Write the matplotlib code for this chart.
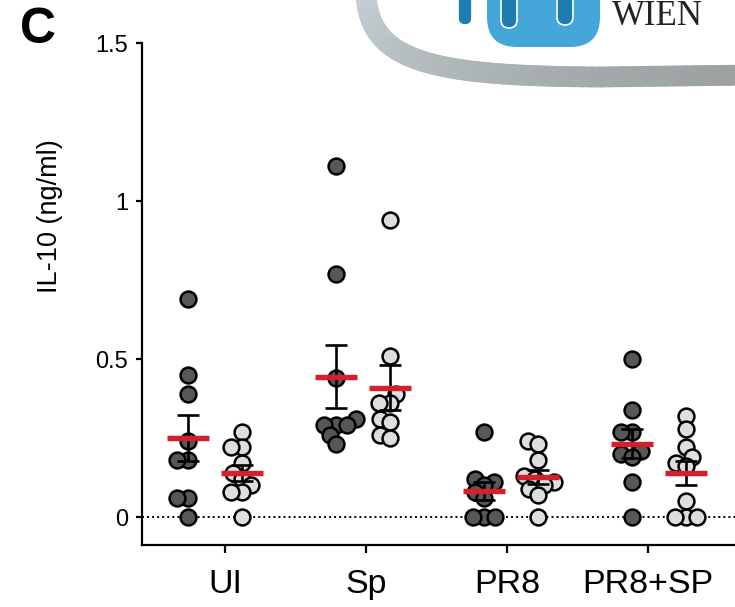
#!/usr/bin/env python3
"""IL-10 dot plot: two cohorts per stimulation, mean (red) and SEM."""

import matplotlib
matplotlib.use("Agg")
import matplotlib.pyplot as plt
import numpy as np
from matplotlib.collections import LineCollection
from matplotlib.patches import FancyBboxPatch

plt.rcParams["font.family"] = ["Liberation Sans", "DejaVu Sans"]

W, H = 735, 607

CATEGORIES = ["UI", "Sp", "PR8", "PR8+SP"]

# IL-10 (ng/ml), dark = first cohort, light = second cohort
UI_DARK = [0.69, 0.45, 0.39, 0.24, 0.18, 0.18, 0.06, 0.06, 0.0]
UI_LIGHT = [0.27, 0.22, 0.22, 0.17, 0.14, 0.12, 0.10, 0.08, 0.08, 0.0]
SP_DARK = [1.11, 0.77, 0.44, 0.31, 0.29, 0.29, 0.29, 0.26, 0.23]
SP_LIGHT = [0.94, 0.51, 0.39, 0.36, 0.36, 0.31, 0.30, 0.26, 0.25]
PR8_DARK = [0.27, 0.12, 0.11, 0.10, 0.08, 0.06, 0.0, 0.0, 0.0]
PR8_LIGHT = [0.24, 0.23, 0.18, 0.13, 0.12, 0.11, 0.10, 0.09, 0.07, 0.0]
PR8SP_DARK = [0.50, 0.34, 0.27, 0.27, 0.21, 0.20, 0.19, 0.11, 0.0]
PR8SP_LIGHT = [0.32, 0.28, 0.22, 0.19, 0.17, 0.16, 0.05, 0.0, 0.0, 0.0]

DARK = [UI_DARK, SP_DARK, PR8_DARK, PR8SP_DARK]
LIGHT = [UI_LIGHT, SP_LIGHT, PR8_LIGHT, PR8SP_LIGHT]

DARK_FILL = "#575757"
LIGHT_FILL = "#dedede"
MEAN_RED = "#d61f2b"

PX_PER_Y = 316.0   # pixels per ng/ml
PX_PER_X = 148.0   # pixels per category step
HALF_GAP = 0.185   # offset of each cohort from the group centre


def swarm(values, d=11.0):
    """Beeswarm offsets; markers closer than d pixels get pushed sideways."""
    ys = np.asarray(values, dtype=float) * PX_PER_Y
    xs = np.zeros(len(ys))
    placed = []
    for i in np.argsort(ys, kind="stable"):
        y = ys[i]
        cands = [0.0]
        for px, py in placed:
            dy = abs(y - py)
            if dy < d:
                dx = np.sqrt(d * d - dy * dy)
                cands += [px + dx, px - dx]
        cands.sort(key=lambda c: (abs(c), c))
        for c in cands:
            if all((c - px) ** 2 + (y - py) ** 2 >= d * d - 1e-6 for px, py in placed):
                xs[i] = c
                break
        placed.append((xs[i], y))
    return xs / PX_PER_X


def draw_group(ax, x0, vals, fill):
    vals = np.asarray(vals, dtype=float)
    ax.plot(x0 + swarm(vals), vals, "o", ms=11.4, mfc=fill, mec="black",
            mew=1.8, zorder=3, clip_on=False)
    mean = vals.mean()
    sem = vals.std(ddof=1) / np.sqrt(len(vals))
    ax.errorbar([x0], [mean], yerr=[sem], fmt="none", ecolor="black",
                elinewidth=1.9, capsize=8, capthick=1.9, zorder=4)
    ax.hlines(mean, x0 - 0.142, x0 + 0.142, color=MEAN_RED, lw=3.9, zorder=5)


fig = plt.figure(figsize=(W / 100, H / 100), dpi=100)
ax = fig.add_axes([142 / W, 62 / H, 1 - 142 / W, (545 - 43) / H])

for i in range(len(CATEGORIES)):
    draw_group(ax, i - HALF_GAP, DARK[i], DARK_FILL)
    draw_group(ax, i + HALF_GAP, LIGHT[i], LIGHT_FILL)

ax.axhline(0, color="black", ls=(0, (1, 1.6)), lw=1.4, zorder=1)

ax.set_xlim(-0.493, 3.514)
ax.set_ylim(-0.0886, 1.5)
ax.set_yticks([0, 0.5, 1, 1.5])
ax.set_yticklabels(["0", "0.5", "1", "1.5"], fontsize=17)
ax.set_xticks([0.068 + 0.953 * i for i in range(len(CATEGORIES))])
ax.set_xticklabels(CATEGORIES, fontsize=24.5)
ax.tick_params(axis="y", direction="out", length=4, width=1.6, pad=6)
ax.tick_params(axis="x", direction="out", length=6, width=1.6, pad=11)
for s in ("top", "right"):
    ax.spines[s].set_visible(False)
for s in ("left", "bottom"):
    ax.spines[s].set_linewidth(1.6)

fig.text(50 / W, 1 - 216 / H, "IL-10 (ng/ml)", rotation=90, ha="center",
         va="center", fontsize=19.5)
fig.text(38 / W, 1 - 30 / H, "C", ha="center", va="center", fontsize=36,
         fontweight="bold")

# logo overlay, drawn in pixel coordinates
lg = fig.add_axes([0, 0, 1, 1], zorder=10)
lg.set_xlim(0, W)
lg.set_ylim(H, 0)
lg.axis("off")

t = np.linspace(0, 1, 60)[:, None]
p0, p1, p2, p3 = map(np.array, [(366, -8), (368, 62), (430, 76), (600, 77)])
curve = ((1 - t) ** 3 * p0 + 3 * (1 - t) ** 2 * t * p1
         + 3 * (1 - t) * t ** 2 * p2 + t ** 3 * p3)
tail = np.column_stack([np.linspace(600, 750, 15)[1:], np.linspace(77, 75, 15)[1:]])
band = np.vstack([curve, tail])
segs = np.stack([band[:-1], band[1:]], axis=1)
c0 = np.array(matplotlib.colors.to_rgb("#c6d0d4"))
c1 = np.array(matplotlib.colors.to_rgb("#9ba1a1"))
f = np.linspace(0, 1, len(segs))[:, None]
lg.add_collection(LineCollection(segs, colors=c0 * (1 - f) + c1 * f,
                                 linewidths=15, capstyle="round"))

lg.add_patch(FancyBboxPatch((487, -40), 113, 87,
                            boxstyle="round,pad=0,rounding_size=30",
                            fc="#45a6d9", ec="none"))
for x, w, bottom in [(458, 14, 25), (501, 16, 28), (557, 16, 25)]:
    lg.add_patch(FancyBboxPatch((x, -30), w, bottom + 30,
                                boxstyle=f"round,pad=0,rounding_size={w / 2}",
                                fc="#1d7db2", ec="white", lw=1.2))
lg.text(612, 25, "WIEN", family="Liberation Serif", fontsize=25,
        color="#222222", va="baseline", ha="left")

fig.savefig("out.png", dpi=100)
